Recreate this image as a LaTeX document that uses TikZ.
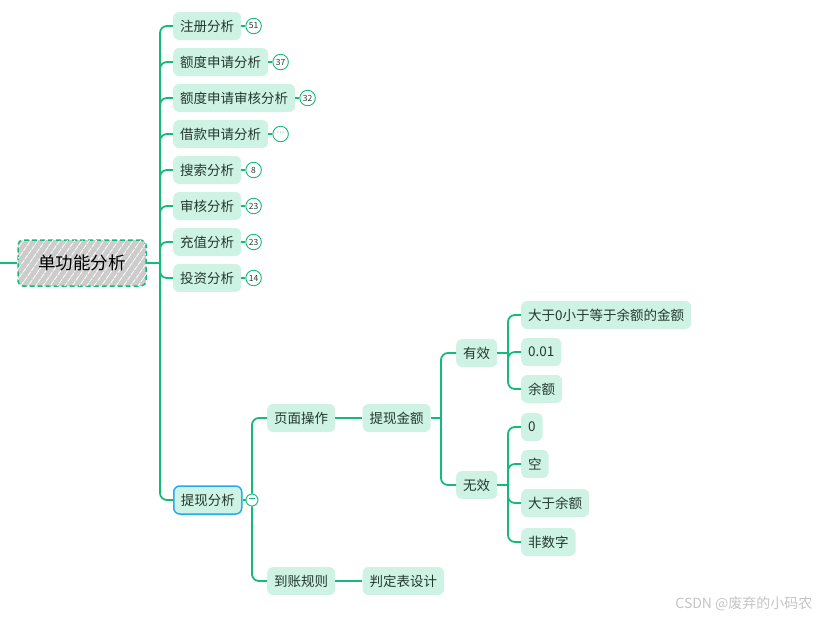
\documentclass[tikz,border=0pt]{standalone}
\usepackage{fontspec}
\setmainfont{Noto Sans CJK SC}
\newfontfamily\dotfont{DejaVu Sans}
\usetikzlibrary{positioning, patterns.meta}

\definecolor{linkgreen}{RGB}{20,186,122}
\definecolor{leaffill}{RGB}{206,242,228}
\definecolor{leaftext}{RGB}{35,58,46}
\definecolor{rootgray}{RGB}{204,204,204}
\definecolor{selblue}{RGB}{40,170,240}
\definecolor{markgray}{RGB}{196,196,196}

\begin{document}
\begin{tikzpicture}[
  x=1pt, y=-1pt,
  root/.style={rectangle, rounded corners=5pt, draw=linkgreen, line width=1.5pt,
               dash pattern=on 5pt off 3pt, fill=rootgray,
               postaction={pattern={Lines[angle=55, distance=6pt, line width=0.8pt]},
                           pattern color=white},
               minimum width=128pt, minimum height=46pt,
               font=\fontsize{17.5}{17.5}\selectfont, text=black},
  leaf/.style={rectangle, rounded corners=6pt, fill=leaffill, text=leaftext,
               inner xsep=7pt, inner ysep=0pt, minimum height=28pt,
               font=\fontsize{13.5}{13.5}\selectfont},
  badge/.style={circle, draw=linkgreen, fill=white, line width=0.9pt,
                inner sep=0pt, minimum size=15.5pt, text=leaftext,
                font=\fontsize{8.5}{8.5}\selectfont},
  link/.style={draw=linkgreen, line width=1.8pt, rounded corners=7pt},
  blink/.style={draw=linkgreen, line width=1.2pt}
]
\useasboundingbox (0,0) rectangle (828,619);

% root and its spine
\coordinate (lin) at (0,263);
\node[root] (root) at (82,263) {单功能分析};
\coordinate (spine) at (160,263);
\draw[link, rounded corners=0pt] (lin) -- (root.west);
\draw[link, rounded corners=0pt] (root.east) -- (spine);

% first level
\node[leaf, anchor=west] (reg)   at (173,26)  {注册分析};
\node[leaf, anchor=west] (quota) at (173,62)  {额度申请分析};
\node[leaf, anchor=west] (qrev)  at (173,98)  {额度申请审核分析};
\node[leaf, anchor=west] (loan)  at (173,134) {借款申请分析};
\node[leaf, anchor=west] (srch)  at (173,170) {搜索分析};
\node[leaf, anchor=west] (audit) at (173,206) {审核分析};
\node[leaf, anchor=west] (chrg)  at (173,242) {充值分析};
\node[leaf, anchor=west] (inv)   at (173,278) {投资分析};
\node[leaf, anchor=west, draw=selblue, line width=1.5pt] (wd) at (173,500) {提现分析};

\foreach \n in {reg, quota, qrev, loan, srch, audit, chrg, inv, wd}
  \draw[link] (spine) |- (\n.west);

% counters
\node[badge, right=4pt of reg]   (regN)   {51};
\node[badge, right=4pt of quota] (quotaN) {37};
\node[badge, right=4pt of qrev]  (qrevN)  {32};
\node[badge, right=4pt of loan, text=linkgreen!70] (loanN) {\dotfont ···};
\node[badge, right=4pt of srch]  (srchN)  {8};
\node[badge, right=4pt of audit] (auditN) {23};
\node[badge, right=4pt of chrg]  (chrgN)  {23};
\node[badge, right=4pt of inv]   (invN)   {14};
\node[badge, right=3pt of wd, minimum size=12pt, text=linkgreen]
  (wdN) {\rule[2.5pt]{6pt}{0.8pt}};

\foreach \n in {reg, quota, qrev, loan, srch, audit, chrg, inv, wd}
  \draw[blink] (\n.east) -- (\n N.west);

% withdrawal subtree
\node[leaf, anchor=west]        (page)  at (267,418) {页面操作};
\node[leaf, anchor=west]        (rules) at (267,581) {到账规则};
\node[leaf, right=27pt of page]  (amt)   {提现金额};
\node[leaf, right=27pt of rules] (table) {判定表设计};

\draw[link] (wdN.north) |- (page.west);
\draw[link] (wdN.south) |- (rules.west);
\draw[link] (page) -- (amt);
\draw[link] (rules) -- (table);

% valid / invalid
\coordinate (afork) at (441,418);
\node[leaf, anchor=west] (ok)  at (456,353) {有效};
\node[leaf, anchor=west] (bad) at (456,485) {无效};
\draw[link, rounded corners=0pt] (amt.east) -- (afork);
\draw[link] (afork) |- (ok.west);
\draw[link] (afork) |- (bad.west);

\coordinate (okfork)  at (508,353);
\coordinate (badfork) at (508,485);
\node[leaf, anchor=west] (ok1) at (521,315) {大于0小于等于余额的金额};
\node[leaf, anchor=west] (ok2) at (521,352) {0.01};
\node[leaf, anchor=west] (ok3) at (521,389) {余额};
\node[leaf, anchor=west] (bad1) at (521,427) {0};
\node[leaf, anchor=west] (bad2) at (521,464) {空};
\node[leaf, anchor=west] (bad3) at (521,503) {大于余额};
\node[leaf, anchor=west] (bad4) at (521,542) {非数字};

\draw[link, rounded corners=0pt] (ok.east) -- (okfork);
\draw[link, rounded corners=0pt] (bad.east) -- (badfork);
\foreach \n in {ok1, ok2, ok3}
  \draw[link] (okfork) |- (\n.west);
\foreach \n in {bad1, bad2, bad3, bad4}
  \draw[link] (badfork) |- (\n.west);

% watermark
\node[anchor=east, text=markgray, font=\fontsize{14}{14}\selectfont]
  (mark) at (816,604) {CSDN @废弃的小码农};

\end{tikzpicture}
\end{document}
